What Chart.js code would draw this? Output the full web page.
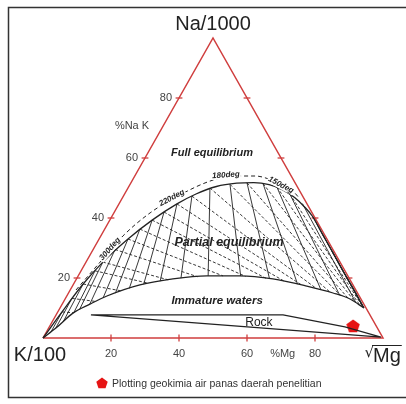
<!DOCTYPE html>
<html>
<head>
<meta charset="utf-8">
<script src="https://cdn.jsdelivr.net/npm/chart.js@4.4.0/dist/chart.umd.min.js"></script>
<style>
  html, body { margin: 0; padding: 0; background: #fff; }
  canvas { display: block; }
</style>
</head>
<body>
<canvas id="chart" width="406" height="404"></canvas>
<script>
// ternary data: x = position along the K-Mg base (%), y = %Na
const TICKS = [20, 40, 60, 80];
const upperCurve = [[0,0],[5.6,8.7],[11.8,18],[17.6,25.3],[25,33],[32.1,39.3],[39.4,44.7],[45,48],[51,50.5],[57,51.6],[62,51.8],[66.5,51.1],[70.5,49.4],[74,46.8],[77,43.6],[79.3,40.5],[82.1,34.8],[85.1,28.8],[88.3,22.2],[91.4,16.2],[94.4,10]];
const lowerCurve = [[0,0],[3.8,3.3],[8.8,8.3],[13.8,11.3],[18.8,14],[28.5,17.7],[38.2,19.7],[48.2,20.7],[57.9,20.7],[67.6,19.7],[77.6,17.3],[85.3,15],[90.3,13],[94.4,10]];
const tempCurve = [[9.7,16],[16.8,25.3],[23.5,34],[31.5,41.7],[40.3,47.7],[49.1,52.3],[55.6,54],[62.4,54],[68.2,52.3],[72,50.7],[75.5,46.5]];
const tempLabels = ['300deg', '220deg', '180deg', '150deg'];
const hatchTops = [[5.6,8.7],[8.5,13.2],[11.8,18],[15.3,22.4],[17.6,25.3],[21.2,29.5],[25,33],[28.5,36.3],[32.1,39.3],[35.6,42],[39.4,44.7],[43.8,47.3],[49.1,50],[55,51.2],[60,51.7],[64.7,51.5],[68.8,50.3],[72.6,48],[76.3,44.8],[79.3,40.5],[82.1,34.8],[85.1,28.8]];
const rockOutline = [[14.1,7.7],[70.6,7.7],[88.8,3.7],[99.4,0.3],[14.1,7.7]];
const samples = [[91.2,4]];
const sampleLabel = 'Plotting geokimia air panas daerah penelitian';

const RED = 'rgb(208,62,62)';
const INK = '#222';

const pts = arr => arr.map(p => ({ x: p[0], y: p[1] }));

// first crossing of segment p->q with a polyline
function hitCurve(p, q, curve) {
    let best = null, bestT = Infinity;
    for (let i = 0; i < curve.length - 1; i++) {
        const a = curve[i], b = curve[i + 1];
        const rx = q.x - p.x, ry = q.y - p.y, sx = b.x - a.x, sy = b.y - a.y;
        const den = rx * sy - ry * sx;
        if (Math.abs(den) < 1e-9) continue;
        const t = ((a.x - p.x) * sy - (a.y - p.y) * sx) / den;
        const u = ((a.x - p.x) * ry - (a.y - p.y) * rx) / den;
        if (t > 1e-6 && t <= 1 && u >= 0 && u <= 1 && t < bestT) {
            bestT = t;
            best = { x: p.x + rx * t, y: p.y + ry * t };
        }
    }
    return best;
}

function pentagon(size, color) {
    const c = document.createElement('canvas');
    c.width = c.height = size;
    const g = c.getContext('2d');
    const r = size / 2;
    g.fillStyle = color;
    g.beginPath();
    for (let i = 0; i < 5; i++) {
        const a = (-90 + 72 * i) * Math.PI / 180;
        g.lineTo(r + r * Math.cos(a), r + 0.5 + r * Math.sin(a));
    }
    g.closePath();
    g.fill();
    return c;
}

const line = (data, color, width, dash) => ({
    data: data, showLine: true, borderColor: color, borderWidth: width,
    borderDash: dash || [], pointRadius: 0, fill: false, clip: false, tension: 0
});

const datasets = [];
const lower = pts(lowerCurve);
const naApex = { x: 50, y: 100 }, mgApex = { x: 100, y: 0 };

// hatching: K/Mg lines from the Na apex, Na/K lines towards the Mg apex
pts(hatchTops).forEach(t => {
    const k = 100 / (naApex.y - t.y);
    const base = { x: naApex.x + (t.x - naApex.x) * k, y: 0 };
    const a = hitCurve(t, base, lower);
    if (a) datasets.push(line([t, a], INK, 0.9));
    const b = hitCurve(t, mgApex, lower);
    if (b) datasets.push(line([t, b], INK, 0.9, [3, 2]));
});

datasets.push(Object.assign(line(pts(upperCurve), INK, 1.3), { cubicInterpolationMode: 'monotone' }));
datasets.push(Object.assign(line(lower, INK, 1.3), { cubicInterpolationMode: 'monotone' }));
datasets.push(Object.assign(line(pts(tempCurve), INK, 1, [4, 3]), { cubicInterpolationMode: 'monotone' }));
datasets.push(line(pts(rockOutline), INK, 1.1));

// triangle and its ticks
datasets.push(line(pts([[0,0],[50,100],[100,0],[0,0]]), RED, 1.5));
TICKS.forEach(v => {
    datasets.push(line(pts([[v, -1.2], [v, 1.2]]), RED, 1.3));
    datasets.push(line(pts([[v / 2 - 1, v], [v / 2 + 1, v]]), RED, 1.3));
    datasets.push(line(pts([[100 - v / 2 - 1, v], [100 - v / 2 + 1, v]]), RED, 1.3));
});

datasets.push({
    data: pts(samples), pointStyle: pentagon(14, 'rgb(230,20,20)'),
    pointRadius: 7, showLine: false, clip: false
});

const textPlugin = {
    id: 'ternaryText',
    beforeDraw(chart) {
        const ctx = chart.ctx;
        ctx.save();
        ctx.fillStyle = '#fff';
        ctx.fillRect(0, 0, chart.width, chart.height);
        ctx.strokeStyle = '#333';
        ctx.lineWidth = 1.5;
        ctx.strokeRect(8.5, 7.5, 420, 390);
        ctx.restore();
    },
    afterDatasetsDraw(chart) {
        const ctx = chart.ctx;
        const xs = chart.scales.x, ys = chart.scales.y;
        const X = v => xs.getPixelForValue(v), Y = v => ys.getPixelForValue(v);
        ctx.save();
        ctx.textBaseline = 'middle';
        ctx.textAlign = 'center';

        // corner labels
        ctx.fillStyle = INK;
        ctx.font = '20px "Liberation Sans", Arial, sans-serif';
        ctx.fillText('Na/1000', X(50), Y(100) - 14);
        ctx.fillText('K/100', X(0) - 3, Y(0) + 17);
        ctx.textAlign = 'left';
        const mx = X(100) - 10;
        ctx.fillText('Mg', mx, Y(0) + 18);
        const mw = ctx.measureText('Mg').width;
        ctx.font = '15px "DejaVu Sans", sans-serif';
        const sw = ctx.measureText('\u221A').width;
        ctx.fillText('\u221A', mx - sw + 1, Y(0) + 15);
        ctx.strokeStyle = INK;
        ctx.lineWidth = 1;
        ctx.beginPath();
        ctx.moveTo(mx - 1, Y(0) + 7.5);
        ctx.lineTo(mx + mw + 1, Y(0) + 7.5);
        ctx.stroke();

        // tick labels
        ctx.fillStyle = '#444';
        ctx.font = '11px "Liberation Sans", Arial, sans-serif';
        ctx.textAlign = 'right';
        TICKS.forEach(v => ctx.fillText(String(v), X(v / 2) - 7, Y(v)));
        ctx.textAlign = 'center';
        ctx.fillText('%Na K', X(35) - 30, Y(70.7));
        TICKS.forEach(v => ctx.fillText(String(v), X(v), Y(0) + 16));
        ctx.fillText('%Mg', X(70.5), Y(0) + 16);

        // field names
        ctx.fillStyle = INK;
        ctx.font = 'italic bold 11px "Liberation Sans", Arial, sans-serif';
        ctx.fillText('Full equilibrium', X(49.7), Y(61.7));
        ctx.font = 'italic bold 12.5px "Liberation Sans", Arial, sans-serif';
        ctx.fillText('Partial equilibrium', X(54.7), Y(31.7));
        ctx.font = 'italic bold 11.5px "Liberation Sans", Arial, sans-serif';
        ctx.fillText('Immature waters', X(51.2), Y(12.3));
        ctx.font = '12px "Liberation Sans", Arial, sans-serif';
        ctx.fillText('Rock', X(63.5), Y(5));

        // temperatures along the full equilibrium line
        const spots = [[19.7, 29.7, -49], [37.9, 46.7, -28], [53.8, 54.3, -4], [70, 51, 28]];
        ctx.font = 'italic bold 8px "Liberation Sans", Arial, sans-serif';
        tempLabels.forEach((s, i) => {
            const [dx, dy, rot] = spots[i];
            ctx.save();
            ctx.translate(X(dx), Y(dy));
            ctx.rotate(rot * Math.PI / 180);
            const w = ctx.measureText(s).width;
            ctx.fillStyle = '#fff';
            ctx.fillRect(-w / 2 - 1, -4, w + 2, 8);
            ctx.fillStyle = INK;
            ctx.fillText(s, 0, 0);
            ctx.restore();
        });

        // legend
        const lx = 102, ly = 383;
        ctx.drawImage(pentagon(12, 'rgb(230,20,20)'), lx - 6, ly - 6);
        ctx.fillStyle = '#333';
        ctx.font = '10.5px "Liberation Sans", Arial, sans-serif';
        ctx.textAlign = 'left';
        ctx.fillText(sampleLabel, lx + 10, ly + 1);
        ctx.restore();
    }
};

new Chart(document.getElementById('chart'), {
    type: 'scatter',
    data: { datasets: datasets },
    options: {
        responsive: false,
        animation: false,
        layout: { padding: { left: 43, right: 23, top: 38, bottom: 66 } },
        scales: {
            x: { type: 'linear', min: 0, max: 100, display: false },
            y: { type: 'linear', min: 0, max: 100, display: false }
        },
        plugins: { legend: { display: false }, tooltip: { enabled: false } }
    },
    plugins: [textPlugin]
});
</script>
</body>
</html>
